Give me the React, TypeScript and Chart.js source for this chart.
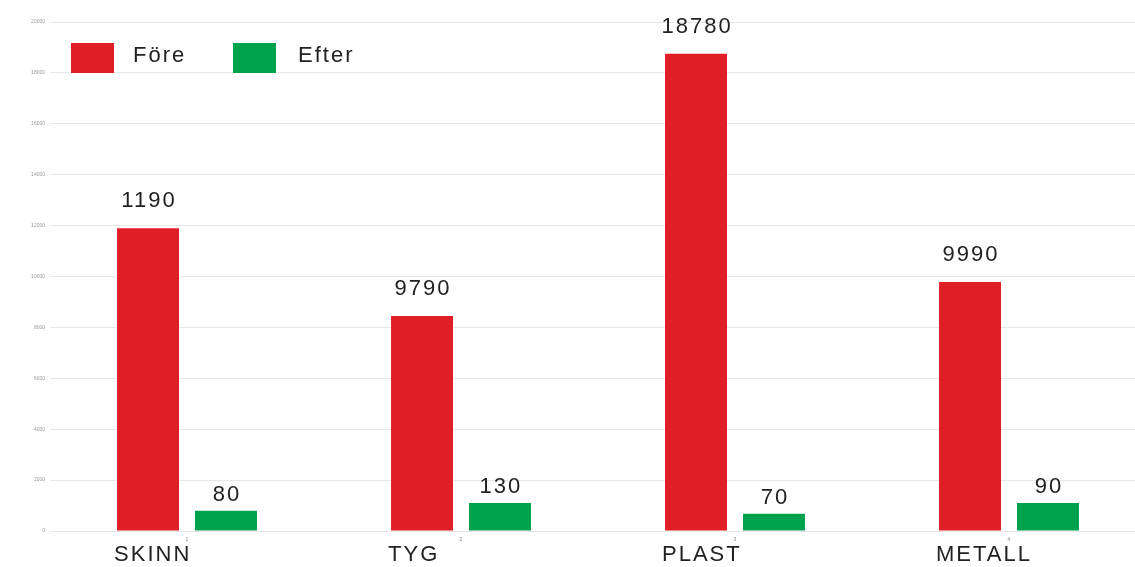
import React, { useEffect, useRef } from "react";
import { Chart, registerables } from "chart.js";

Chart.register(...registerables);

const categories = ["SKINN", "TYG", "PLAST", "METALL"];
const tickNumbers = ["1", "2", "3", "4"];
const seriesNames = ["Före", "Efter"];
const foreValues = [11900, 8450, 18750, 9780];
const efterValues = [800, 1100, 680, 1100];
const foreLabels = ["1190", "9790", "18780", "9990"];
const efterLabels = ["80", "130", "70", "90"];
const yMax = 20000;
const yStep = 2000;

const RED = "#E01E26";
const GREEN = "#00A24E";
const FONT = "'Liberation Sans', Arial, sans-serif";

const overlayPlugin = {
  id: "overlay",
  afterDatasetsDraw(chart: any) {
    const ctx = chart.ctx as CanvasRenderingContext2D;
    const valueLabels = [foreLabels, efterLabels];
    const offsets = [27, 16];
    ctx.save();
    ctx.fillStyle = "#222222";
    ctx.font = `22px ${FONT}`;
    (ctx as any).letterSpacing = "2px";
    ctx.textAlign = "center";
    ctx.textBaseline = "middle";
    for (let d = 0; d < 2; d++) {
      const meta = chart.getDatasetMeta(d);
      meta.data.forEach((bar: any, i: number) => {
        ctx.fillText(valueLabels[d][i], bar.x + 1, bar.y - offsets[d]);
      });
    }
    // category labels
    ctx.textAlign = "left";
    const meta0 = chart.getDatasetMeta(0);
    meta0.data.forEach((bar: any, i: number) => {
      ctx.fillText(categories[i], bar.x - bar.width / 2 - 3, 555);
    });
    // legend
    const items = [
      { color: RED, text: seriesNames[0], bx: 71, tx: 133 },
      { color: GREEN, text: seriesNames[1], bx: 233, tx: 298 },
    ];
    items.forEach((it) => {
      ctx.fillStyle = it.color;
      ctx.fillRect(it.bx, 43, 43, 30);
      ctx.fillStyle = "#222222";
      ctx.fillText(it.text, it.tx, 56);
    });
    ctx.restore();
  },
};

export default function App() {
  const ref = useRef<HTMLCanvasElement | null>(null);
  useEffect(() => {
    if (!ref.current) return;
    const chart = new Chart(ref.current, {
      type: "bar",
      data: {
        labels: tickNumbers,
        datasets: [
          {
            label: seriesNames[0],
            data: foreValues,
            backgroundColor: RED,
            categoryPercentage: 0.569,
            barPercentage: 0.795,
          },
          {
            label: seriesNames[1],
            data: efterValues,
            backgroundColor: GREEN,
            categoryPercentage: 0.569,
            barPercentage: 0.795,
          },
        ],
      },
      options: {
        responsive: false,
        animation: false,
        layout: { padding: { left: 0, right: 4, top: 22, bottom: 0 } },
        plugins: {
          legend: { display: false },
          tooltip: { enabled: false },
          title: { display: false },
        },
        scales: {
          x: {
            grid: { display: false, drawTicks: false },
            border: { display: false },
            ticks: {
              color: "#888",
              font: { size: 5, family: FONT },
              padding: 6,
            },
            afterFit(scale: any) {
              scale.height = 36;
            },
          },
          y: {
            min: 0,
            max: yMax,
            grid: { color: "#e8e8e8", drawTicks: false },
            border: { display: false },
            ticks: {
              stepSize: yStep,
              color: "#999",
              font: { size: 5, family: FONT },
              padding: 5,
              callback: (v: any) => String(v),
            },
            afterFit(scale: any) {
              scale.width = 50;
            },
          },
        },
      },
      plugins: [overlayPlugin],
    });
    return () => chart.destroy();
  }, []);
  return (
    <div
      style={{
        position: "fixed",
        left: 0,
        top: 0,
        width: 1135,
        height: 567,
        overflow: "hidden",
        background: "#fff",
      }}
    >
      <canvas ref={ref} width={1150} height={567} style={{ display: "block" }} />
    </div>
  );
}
